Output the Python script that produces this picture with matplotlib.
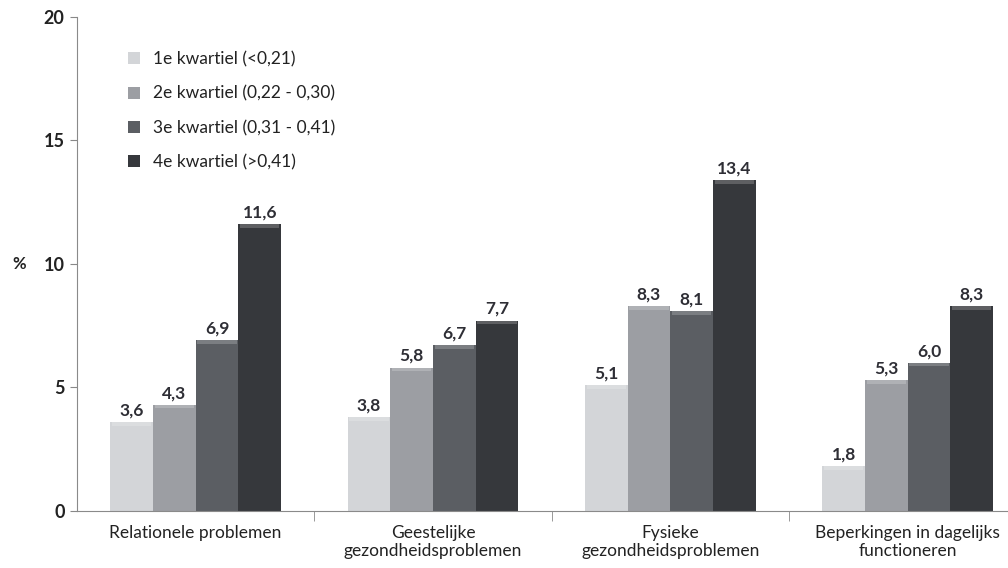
import numpy as np
import matplotlib
matplotlib.use("Agg")
import matplotlib.pyplot as plt

plt.rcParams['font.family'] = ['Lato', 'DejaVu Sans']

# Categorieen en waarden per kwartiel
categories = ["Relationele problemen", "Geestelijke\ngezondheidsproblemen",
              "Fysieke\ngezondheidsproblemen", "Beperkingen in dagelijks\nfunctioneren"]
series_labels = ["1e kwartiel (<0,21)", "2e kwartiel (0,22 - 0,30)",
                 "3e kwartiel (0,31 - 0,41)", "4e kwartiel (>0,41)"]
q1 = [3.6, 3.8, 5.1, 1.8]
q2 = [4.3, 5.8, 8.3, 5.3]
q3 = [6.9, 6.7, 8.1, 6.0]
q4 = [11.6, 7.7, 13.4, 8.3]
colors = ["#d3d5d8", "#9c9ea3", "#5b5e63", "#36383c"]

fig = plt.figure(figsize=(10.08, 5.68), dpi=100)
ax = fig.add_axes([0.0764, 0.1004, 0.93, 0.870])

x = np.arange(len(categories))
width = 0.18
for i, (vals, lab, col) in enumerate(zip([q1, q2, q3, q4], series_labels, colors)):
    pos = x + (i - 1.5) * width
    ax.bar(pos, vals, width, color=col, label=lab, zorder=2)
    # lichte rand bovenop voor het reliëf-effect
    ax.bar(pos, [0.15] * len(vals), width * 0.92, bottom=np.array(vals) - 0.15,
           color="white", alpha=0.2, zorder=3)
    for p, v in zip(pos, vals):
        ax.text(p, v + 0.15, f"{v:.1f}".replace(".", ","), ha="center", va="bottom",
                fontsize=12.5, color="#2e2e35", fontweight="bold")

ax.set_ylim(0, 20)
ax.set_yticks([0, 5, 10, 15, 20])
ax.set_xlim(-0.5, 3.45)
ax.set_xticks(x)
ax.set_xticklabels(categories, fontsize=12.5, color="#222222")
ax.set_xticks([0.5, 1.5, 2.5], minor=True)
ax.tick_params(axis="x", which="major", length=0, pad=10)
ax.tick_params(axis="x", which="minor", length=7, color="#888888")
ax.tick_params(axis="y", length=5, color="#888888", labelsize=13, labelcolor="#222222", pad=4)
for t in ax.get_yticklabels():
    t.set_fontweight("bold")

for s in ["top", "right"]:
    ax.spines[s].set_visible(False)
ax.spines["left"].set_color("#8a8a8a")
ax.spines["bottom"].set_color("#8a8a8a")

fig.text(0.012, 0.527, "%", fontsize=12, fontweight="bold", color="#222222")

leg = ax.legend(loc="upper left", bbox_to_anchor=(0.038, 0.962), frameon=False,
                fontsize=12.5, handlelength=0.7, handleheight=0.7,
                labelspacing=1.05, handletextpad=0.7)
for t in leg.get_texts():
    t.set_color("#222222")

fig.savefig("out.png", dpi=100)
